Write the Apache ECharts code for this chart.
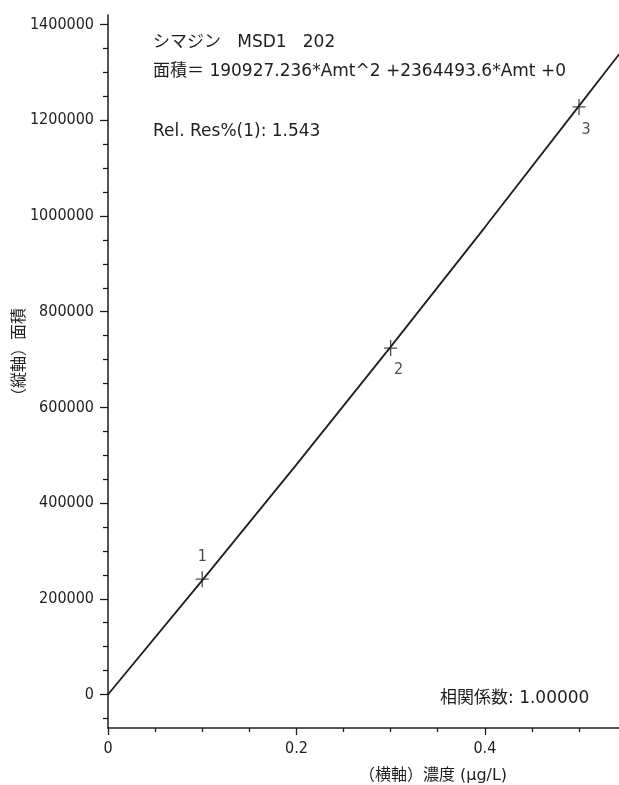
<!DOCTYPE html>
<html>
<head>
<meta charset="utf-8">
<script src="https://cdn.jsdelivr.net/npm/echarts@6/dist/echarts.min.js"></script>
<style>
  html, body { margin: 0; padding: 0; background: #fff; }
  #view { width: 619px; height: 785px; }
</style>
</head>
<body>
<div id="view"></div>
<script>
// calibration curve (x: conc, y: area)
var curveX = [0, 0.1, 0.2, 0.3, 0.4, 0.5, 0.55];
var curveY = [0, 238400, 480500, 726500, 976300, 1230000, 1357000];
// measured standards
var pointX = [0.1, 0.3, 0.5];
var pointY = [241000, 724000, 1228000];
var pointNames = ['1', '2', '3'];
var yMajor = [0, 200000, 400000, 600000, 800000, 1000000, 1200000, 1400000];
var yMinor = [-50000, 50000, 100000, 150000, 250000, 300000, 350000, 450000, 500000, 550000,
    650000, 700000, 750000, 850000, 900000, 950000, 1050000, 1100000, 1150000, 1250000,
    1300000, 1350000];
var xMajor = [0, 0.2, 0.4];
var xMinor = [0.05, 0.1, 0.15, 0.25, 0.3, 0.35, 0.45, 0.5];

var tickFont = '"DejaVu Sans Condensed", "DejaVu Sans", sans-serif';
var txtFont = '"DejaVu Sans", "Noto Sans CJK JP", sans-serif';
var ink = '#1e1e1e';

var curve = curveX.map(function (x, i) { return [x, curveY[i]]; });
var labelPos = [
    { position: 'top', offset: [0, -2] },
    { position: 'bottom', offset: [8, 2] },
    { position: 'bottom', offset: [7, 3] }
];
var points = pointX.map(function (x, i) {
    return {
        value: [x, pointY[i]],
        label: {
            show: true,
            formatter: pointNames[i],
            position: labelPos[i].position,
            offset: labelPos[i].offset,
            distance: 4,
            fontFamily: tickFont,
            fontStyle: 'condensed',
            fontSize: 16,
            color: ink
        }
    };
});

var xBase = {
    type: 'value',
    min: 0,
    max: 0.5424,
    splitLine: { show: false },
    axisLine: { show: false, onZero: false }
};
var yBase = {
    type: 'value',
    min: -70000,
    max: 1420000,
    splitLine: { show: false },
    axisLine: { show: false, onZero: false }
};

option = {
    animation: false,
    grid: {
        left: 108,
        right: 0,
        top: 15,
        bottom: 57
    },
    xAxis: [
        Object.assign({}, xBase, {
            axisLine: { show: true, onZero: false, lineStyle: { color: ink, width: 1.5 } },
            axisTick: { show: true, length: 7, customValues: xMajor, lineStyle: { color: ink, width: 1.3 } },
            axisLabel: {
                customValues: xMajor,
                margin: 13,
                fontFamily: tickFont,
                fontStyle: 'condensed',
                fontSize: 16,
                color: ink,
                formatter: function (v) { return String(v); }
            }
        }),
        Object.assign({}, xBase, {
            position: 'bottom',
            axisTick: { show: true, length: 4, customValues: xMinor, lineStyle: { color: ink, width: 1.3 } },
            axisLabel: { show: false }
        })
    ],
    yAxis: [
        Object.assign({}, yBase, {
            axisLine: { show: true, onZero: false, lineStyle: { color: ink, width: 1.5 } },
            axisTick: { show: true, length: 8, customValues: yMajor, lineStyle: { color: ink, width: 1.3 } },
            axisLabel: {
                customValues: yMajor,
                margin: 14,
                fontFamily: tickFont,
                fontStyle: 'condensed',
                fontSize: 16,
                color: ink,
                formatter: function (v) { return String(v); }
            }
        }),
        Object.assign({}, yBase, {
            position: 'left',
            axisTick: { show: true, length: 5, customValues: yMinor, lineStyle: { color: ink, width: 1.3 } },
            axisLabel: { show: false }
        })
    ],
    graphic: [
        {
            type: 'text', x: 153, y: 43,
            style: { text: 'シマジン   MSD1   202', font: '17px ' + txtFont, fill: ink, verticalAlign: 'middle' }
        },
        {
            type: 'text', x: 153, y: 72,
            style: { text: '面積＝ 190927.236*Amt^2 +2364493.6*Amt +0', font: '17px ' + txtFont, fill: ink, verticalAlign: 'middle' }
        },
        {
            type: 'text', x: 153, y: 132,
            style: { text: 'Rel. Res%(1): 1.543', font: '17px ' + txtFont, fill: ink, verticalAlign: 'middle' }
        },
        {
            type: 'text', x: 440, y: 699,
            style: { text: '相関係数: 1.00000', font: '17px ' + txtFont, fill: ink, verticalAlign: 'middle' }
        },
        {
            type: 'text', x: 433, y: 776,
            style: { text: '（横軸）濃度 (μg/L)', font: '16px ' + txtFont, fill: ink, align: 'center', verticalAlign: 'middle' }
        },
        {
            type: 'text', x: 20, y: 356, rotation: Math.PI / 2,
            style: { text: '（縦軸）面積', font: '16px ' + txtFont, fill: ink, align: 'center', verticalAlign: 'middle' }
        }
    ],
    series: [
        {
            type: 'line',
            data: curve,
            showSymbol: false,
            clip: true,
            lineStyle: { color: ink, width: 1.8 },
            silent: true
        },
        {
            type: 'scatter',
            data: points,
            symbol: 'path://M45,0H55V46H100V54H55V100H45V54H0V46H45Z',
            symbolSize: [13, 16],
            itemStyle: { color: ink }
        }
    ]
};

echarts.init(document.getElementById('view')).setOption(option);
</script>
</body>
</html>
